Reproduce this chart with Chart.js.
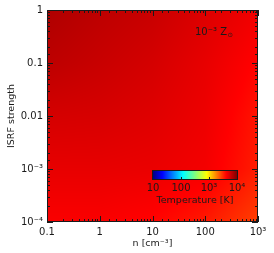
<!DOCTYPE html>
<html>
<head>
<meta charset="utf-8">
<script src="https://cdn.jsdelivr.net/npm/chart.js@4/dist/chart.umd.min.js"></script>
<style>
html, body { margin: 0; padding: 0; background: #fff; }
#wrap { width: 274px; height: 253px; }
</style>
</head>
<body>
<div id="wrap"><canvas id="chart"></canvas></div>
<script>
// grid nodes of the temperature map
var densities = [0.1, 1, 10, 100, 1000];          // n [cm^-3]
var isrfStrengths = [1e-4, 1e-3, 0.01, 0.1, 1];   // ISRF strength
// temperature [K], one row per ISRF strength (bottom to top)
var tempIsrf1e4 = [4200, 4200, 4000, 3500, 2750];
var tempIsrf1e3 = [4800, 4800, 4700, 4400, 3400];
var tempIsrf1e2 = [5500, 5400, 5100, 4600, 3600];
var tempIsrf1e1 = [6500, 6000, 5500, 4800, 4000];
var tempIsrf1e0 = [7200, 6500, 6000, 5200, 4500];
var tempRows = [tempIsrf1e4, tempIsrf1e3, tempIsrf1e2, tempIsrf1e1, tempIsrf1e0];

var xTickValues = [0.1, 1, 10, 100, 1000];
var xTickLabels = ['0.1', '1', '10', '100', '10\u00b3'];
var yTickValues = [1e-4, 1e-3, 0.01, 0.1, 1];
var yTickLabels = ['10\u207b\u2074', '10\u207b\u00b3', '0.01', '0.1', '1'];

var cbarValues = [10, 100, 1000, 10000];
var cbarLabels = ['10', '100', '10\u00b3', '10\u2074'];

// colour table (log T from 1 to 4)
var cmapStops = [0, 0.11, 0.36, 0.64, 0.87, 1];
var cmapColors = [[0, 0, 130], [0, 0, 255], [0, 255, 255], [255, 255, 0], [255, 0, 0], [128, 0, 0]];
var logTMin = 1, logTMax = 4;

var FONT = 'DejaVu Sans';
var INK = '#1a1a1a';

function colourFor(logT) {
    var t = (logT - logTMin) / (logTMax - logTMin);
    if (t < 0) t = 0;
    if (t > 1) t = 1;
    for (var i = 0; i < cmapStops.length - 1; i++) {
        if (t <= cmapStops[i + 1]) {
            var f = (t - cmapStops[i]) / (cmapStops[i + 1] - cmapStops[i]);
            var a = cmapColors[i], b = cmapColors[i + 1];
            return [a[0] + (b[0] - a[0]) * f, a[1] + (b[1] - a[1]) * f, a[2] + (b[2] - a[2]) * f];
        }
    }
    return cmapColors[cmapColors.length - 1];
}

function fracIndex(arr, v) {
    var lv = Math.log10(v);
    for (var i = 0; i < arr.length - 1; i++) {
        var a = Math.log10(arr[i]), b = Math.log10(arr[i + 1]);
        if (lv <= b || i == arr.length - 2) {
            var f = (lv - a) / (b - a);
            return i + Math.min(Math.max(f, 0), 1);
        }
    }
    return 0;
}

function logTempAt(n, g) {
    var fx = fracIndex(densities, n), fy = fracIndex(isrfStrengths, g);
    var i = Math.min(Math.floor(fx), densities.length - 2);
    var j = Math.min(Math.floor(fy), isrfStrengths.length - 2);
    var u = fx - i, w = fy - j;
    var t00 = Math.log10(tempRows[j][i]), t10 = Math.log10(tempRows[j][i + 1]);
    var t01 = Math.log10(tempRows[j + 1][i]), t11 = Math.log10(tempRows[j + 1][i + 1]);
    return (t00 * (1 - u) + t10 * u) * (1 - w) + (t01 * (1 - u) + t11 * u) * w;
}

var heatmapPlugin = {
    id: 'heatmap',
    beforeDatasetsDraw: function(chart) {
        var ctx = chart.ctx, area = chart.chartArea;
        var xs = chart.scales.x, ys = chart.scales.y;
        var x0 = Math.round(area.left), y0 = Math.round(area.top);
        var w = Math.round(area.right) - x0, h = Math.round(area.bottom) - y0;
        var off = document.createElement('canvas');
        off.width = w;
        off.height = h;
        var octx = off.getContext('2d');
        var img = octx.createImageData(w, h);
        for (var py = 0; py < h; py++) {
            var g = ys.getValueForPixel(y0 + py + 0.5);
            for (var px = 0; px < w; px++) {
                var n = xs.getValueForPixel(x0 + px + 0.5);
                var c = colourFor(logTempAt(n, g));
                var k = (py * w + px) * 4;
                img.data[k] = c[0];
                img.data[k + 1] = c[1];
                img.data[k + 2] = c[2];
                img.data[k + 3] = 255;
            }
        }
        octx.putImageData(img, 0, 0);
        ctx.drawImage(off, x0, y0);
    },
    afterDatasetsDraw: function(chart) {
        var ctx = chart.ctx, area = chart.chartArea;
        var xs = chart.scales.x, ys = chart.scales.y;
        ctx.save();
        ctx.strokeStyle = INK;
        ctx.lineWidth = 1;
        // frame
        ctx.strokeRect(area.left + 0.5, area.top + 0.5, area.right - area.left - 1, area.bottom - area.top - 1);
        // inward ticks on all four sides
        ctx.beginPath();
        xs.ticks.forEach(function(t) {
            var major = Math.abs(Math.log10(t.value) - Math.round(Math.log10(t.value))) < 1e-6;
            var len = major ? 6 : 3;
            var x = Math.round(xs.getPixelForValue(t.value)) + 0.5;
            ctx.moveTo(x, area.bottom);
            ctx.lineTo(x, area.bottom - len);
            ctx.moveTo(x, area.top);
            ctx.lineTo(x, area.top + len);
        });
        ys.ticks.forEach(function(t) {
            var major = Math.abs(Math.log10(t.value) - Math.round(Math.log10(t.value))) < 1e-6;
            var len = major ? 6 : 3;
            var y = Math.round(ys.getPixelForValue(t.value)) + 0.5;
            ctx.moveTo(area.left, y);
            ctx.lineTo(area.left + len, y);
            ctx.moveTo(area.right, y);
            ctx.lineTo(area.right - len, y);
        });
        ctx.stroke();

        // colour bar
        var barL = 153, barR = 237, barT = 171, barB = 179;
        for (var x = barL; x < barR; x++) {
            var lt = logTMin + (x + 0.5 - barL) / (barR - barL) * (logTMax - logTMin);
            var c = colourFor(lt);
            ctx.fillStyle = 'rgb(' + Math.round(c[0]) + ',' + Math.round(c[1]) + ',' + Math.round(c[2]) + ')';
            ctx.fillRect(x, barT, 1, barB - barT);
        }
        ctx.strokeRect(barL - 0.5, barT - 0.5, barR - barL + 1, barB - barT + 1);
        ctx.fillStyle = INK;
        ctx.font = '10px "' + FONT + '"';
        ctx.textAlign = 'center';
        ctx.textBaseline = 'middle';
        cbarValues.forEach(function(v, i) {
            var cx = barL + (Math.log10(v) - logTMin) / (logTMax - logTMin) * (barR - barL);
            if (i > 0 && i < cbarValues.length - 1) {
                ctx.fillRect(Math.round(cx), barB - 2, 1, 2);
            }
            ctx.fillText(cbarLabels[i], cx, 188);
        });
        ctx.font = '9.5px "' + FONT + '"';
        ctx.fillText('Temperature [K]', 195, 201);

        // metallicity label
        ctx.textAlign = 'left';
        ctx.font = '10px "' + FONT + '"';
        var lbl = '10\u207b\u00b3 Z';
        ctx.fillText(lbl, 195, 32);
        var wl = ctx.measureText(lbl).width;
        ctx.font = '6.5px "' + FONT + '"';
        ctx.fillText('\u2299', 195 + wl + 0.5, 35);
        ctx.restore();
    }
};

var nodePoints = [];
for (var j = 0; j < isrfStrengths.length; j++) {
    for (var i = 0; i < densities.length; i++) {
        nodePoints.push({ x: densities[i], y: isrfStrengths[j], t: tempRows[j][i] });
    }
}

function labelFor(values, labels) {
    return function(value) {
        for (var i = 0; i < values.length; i++) {
            if (Math.abs(value / values[i] - 1) < 1e-6) return labels[i];
        }
        return '';
    };
}

var chart = new Chart(document.getElementById('chart'), {
    type: 'scatter',
    data: {
        datasets: [{ data: nodePoints, pointRadius: 0, showLine: false }]
    },
    plugins: [heatmapPlugin],
    options: {
        responsive: true,
        maintainAspectRatio: false,
        animation: false,
        layout: { padding: { top: 10, right: 16, left: 0, bottom: 0 } },
        plugins: { legend: { display: false }, tooltip: { enabled: false } },
        scales: {
            x: {
                type: 'logarithmic',
                min: 0.1,
                max: 1000,
                grid: { display: false, drawTicks: false },
                border: { display: false },
                ticks: {
                    autoSkip: false,
                    maxRotation: 0,
                    padding: 4,
                    color: INK,
                    font: { family: FONT, size: 10 },
                    callback: labelFor(xTickValues, xTickLabels)
                },
                title: {
                    display: true,
                    text: 'n [cm\u207b\u00b3]',
                    color: INK,
                    padding: 0,
                    font: { family: FONT, size: 9.5, lineHeight: 1.9 }
                },
                afterFit: function(scale) { scale.height = 31; }
            },
            y: {
                type: 'logarithmic',
                min: 1e-4,
                max: 1,
                grid: { display: false, drawTicks: false },
                border: { display: false },
                ticks: {
                    autoSkip: false,
                    padding: 4,
                    color: INK,
                    font: { family: FONT, size: 10 },
                    callback: labelFor(yTickValues, yTickLabels)
                },
                title: {
                    display: true,
                    text: 'ISRF strength',
                    color: INK,
                    padding: 0,
                    font: { family: FONT, size: 9.5, lineHeight: 2.5 }
                },
                afterFit: function(scale) { scale.width = 47; }
            }
        }
    }
});
</script>
</body>
</html>
